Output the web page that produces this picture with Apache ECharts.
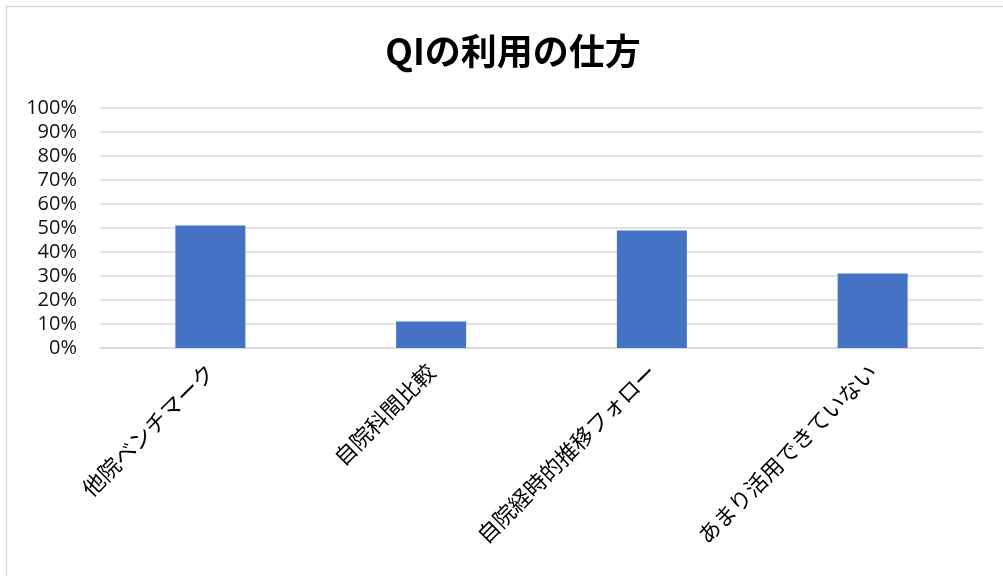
<!DOCTYPE html>
<html>
<head>
<meta charset="utf-8">
<script src="https://cdn.jsdelivr.net/npm/echarts@6/dist/echarts.min.js"></script>
<style>
  html, body { margin: 0; padding: 0; background: #fff; }
  #chart { width: 1003px; height: 576px; }
</style>
</head>
<body>
<div id="chart"></div>
<script>
// QIの利用の仕方 — share of respondents per usage type
const categories = ['他院ベンチマーク', '自院科間比較', '自院経時的推移フォロー', 'あまり活用できていない'];
const values = [51, 11, 49, 31];
const yTicks = [0, 10, 20, 30, 40, 50, 60, 70, 80, 90, 100];

const jpFont = '"Noto Sans CJK JP", "Noto Sans", sans-serif';

const chart = echarts.init(document.getElementById('chart'), null, { renderer: 'canvas' });

chart.setOption({
  backgroundColor: '#ffffff',
  animation: false,
  graphic: [{
    type: 'rect',
    shape: { x: 6.5, y: 6.5, width: 1010, height: 600 },
    style: { fill: 'none', stroke: '#d9d9d9', lineWidth: 1.5 },
    silent: true,
    z: -1
  }],
  title: {
    text: 'QIの利用の仕方',
    left: 508,
    top: 28,
    textAlign: 'center',
    textStyle: { fontFamily: jpFont, fontSize: 36, fontWeight: 'bold', color: '#000' }
  },
  grid: { left: 100, right: 20, top: 108, bottom: 228, containLabel: false },
  xAxis: {
    type: 'category',
    data: categories,
    axisLine: { show: true, lineStyle: { color: '#d9d9d9', width: 1.5 } },
    axisTick: { show: false },
    axisLabel: {
      rotate: 45,
      margin: 20,
      interval: 0,
      fontFamily: jpFont,
      fontSize: 22,
      color: '#000'
    }
  },
  yAxis: {
    type: 'value',
    min: 0,
    max: 100,
    interval: 10,
    axisLine: { show: false },
    axisTick: { show: false },
    splitLine: { lineStyle: { color: '#d9d9d9', width: 1.5 } },
    axisLabel: {
      margin: 23,
      fontFamily: '"Open Sans", "Noto Sans", sans-serif',
      fontSize: 20,
      color: '#111',
      formatter: function (v) { return yTicks.indexOf(v) >= 0 ? v + '%' : ''; }
    }
  },
  series: [{
    type: 'bar',
    data: values,
    barWidth: 70,
    itemStyle: { color: '#4472c4' }
  }]
});
</script>
</body>
</html>
